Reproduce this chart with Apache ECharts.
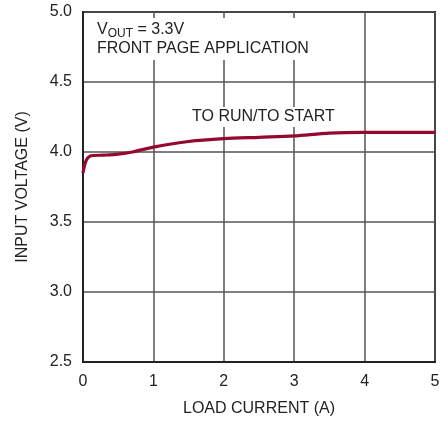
<!DOCTYPE html>
<html><head><meta charset="utf-8">
<script src="https://cdn.jsdelivr.net/npm/echarts@6/dist/echarts.min.js"></script>
<style>html,body{margin:0;padding:0;background:#fff}#c{width:448px;height:423px}</style>
</head><body><div id="c"></div>
<script>
var loadCurrent = [0, 0.02, 0.05, 0.1, 0.15, 0.3, 0.5, 0.7, 1.0, 1.5, 2.0, 2.5, 3.0, 3.5, 4.0, 4.5, 5.0];
var inputVoltage = [3.85, 3.9, 3.945, 3.97, 3.975, 3.978, 3.985, 4.0, 4.035, 4.075, 4.095, 4.105, 4.115, 4.135, 4.14, 4.14, 4.14];
var xTicks = [0, 1, 2, 3, 4, 5];
var yTicks = [2.5, 3.0, 3.5, 4.0, 4.5, 5.0];

var FONT = '"Liberation Sans Narrow", "Liberation Sans", Arial, sans-serif';
var TXT = '#222';
var chart = echarts.init(document.getElementById('c'));
chart.setOption({
  animation: false,
  grid: {left: 83, right: 13, top: 12, bottom: 61, show: true, borderColor: '#222', borderWidth: 2, backgroundColor: 'transparent'},
  xAxis: {
    type: 'value', min: xTicks[0], max: xTicks[xTicks.length - 1], interval: 1,
    name: 'LOAD CURRENT (A)', nameLocation: 'middle', nameGap: 39,
    nameTextStyle: {fontFamily: FONT, fontSize: 16, color: TXT},
    axisLine: {show: true, lineStyle: {color: '#222', width: 2}},
    axisTick: {show: false},
    axisLabel: {fontFamily: FONT, fontSize: 16, color: TXT, margin: 12},
    splitLine: {show: true, lineStyle: {color: '#555', width: 1.5}}
  },
  yAxis: {
    type: 'value', min: yTicks[0], max: yTicks[yTicks.length - 1], interval: 0.5,
    name: 'INPUT VOLTAGE (V)', nameLocation: 'middle', nameGap: 52, nameRotate: 90,
    nameTextStyle: {fontFamily: FONT, fontSize: 16, color: TXT},
    axisLine: {show: true, lineStyle: {color: '#222', width: 2}},
    axisTick: {show: false},
    axisLabel: {fontFamily: FONT, fontSize: 16, color: TXT, margin: 11, formatter: function (v) { return v.toFixed(1); }},
    splitLine: {show: true, lineStyle: {color: '#555', width: 1.5}}
  },
  series: [{
    type: 'line', data: loadCurrent.map(function (x, i) { return [x, inputVoltage[i]]; }),
    showSymbol: false, smooth: 0.3, lineStyle: {color: '#96092f', width: 3.2}, z: 5
  }],
  graphic: [
    {type: 'text', left: 95, top: 18, z: 10, style: {
      text: '{a|V}{s|OUT}{a| = 3.3V}\n{a|FRONT PAGE APPLICATION}',
      rich: {a: {fontFamily: FONT, fontSize: 16, fill: TXT, lineHeight: 19},
             s: {fontFamily: FONT, fontSize: 12, fill: TXT, lineHeight: 19, padding: [8, 0, 0, 0]}},
      backgroundColor: '#fff', padding: [2, 3, 2, 2]
    }},
    {type: 'text', left: 189, top: 107, z: 10, style: {
      text: 'TO RUN/TO START', fontFamily: FONT, fontSize: 16, fill: TXT,
      backgroundColor: '#fff', padding: [2, 3, 2, 3]
    }}
  ]
});
</script></body></html>
